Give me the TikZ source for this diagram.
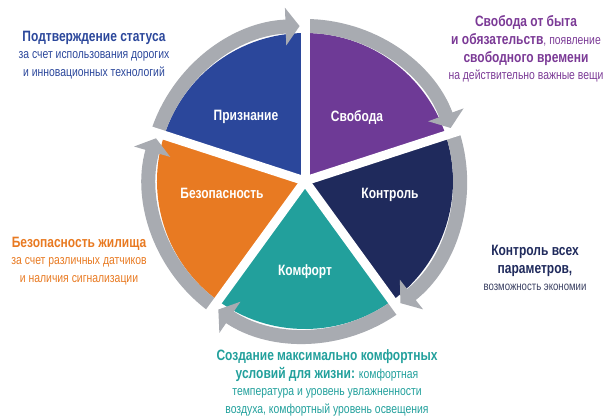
\documentclass[tikz,border=0pt]{standalone}
\usepackage{fontspec}
\setmainfont{Liberation Sans}[FakeStretch=0.8]
\usepackage{tikz}
\usetikzlibrary{arrows.meta}

\definecolor{priznBlue}{HTML}{2B479B}
\definecolor{svobPurple}{HTML}{6E3A96}
\definecolor{svobText}{HTML}{7B3A96}
\definecolor{kontrNavy}{HTML}{1F2A5C}
\definecolor{kontrText}{HTML}{3A4062}
\definecolor{komfTeal}{HTML}{22A09C}
\definecolor{bezOrange}{HTML}{E87A22}
\definecolor{ringGrey}{HTML}{A8ABB1}

\tikzset{
  ring/.style = {draw = ringGrey, line width = 14pt, -{Triangle[length=14pt,width=37pt]}},
  gap/.style = {draw = white, line width = 9pt},
  sliceLabel/.style = {text = white, font = \bfseries\fontsize{15}{17}\selectfont},
  descr/.style = {align = center, font = \fontsize{13}{17.7}\selectfont}
}
\newcommand{\ttl}[1]{{\bfseries\fontsize{15}{17.7}\selectfont #1}}

\begin{document}
\begin{tikzpicture}[x = 1pt, y = 1pt]
        \useasboundingbox (0,0) rectangle (605,416);
        \coordinate (centre) at (305,235);

        % slices
        \fill[priznBlue] (centre) -- ++(90:148) arc (90:162:148) -- cycle;
        \fill[svobPurple] (centre) -- ++(18:148) arc (18:90:148) -- cycle;
        \fill[kontrNavy] (centre) -- ++(-54:148) arc (-54:18:148) -- cycle;
        \fill[komfTeal] (centre) -- ++(-126:148) arc (-126:-54:148) -- cycle;
        \fill[bezOrange] (centre) -- ++(162:148) arc (162:234:148) -- cycle;

        % grey arrows round the circle
        \draw[ring] ([shift={(162:155)}]centre) arc (162:92:155);
        \draw[ring] ([shift={(90:155)}]centre) arc (90:20:155);
        \draw[ring] ([shift={(18:155)}]centre) arc (18:-52:155);
        \draw[ring] ([shift={(-54:155)}]centre) arc (-54:-124:155);
        \draw[ring] ([shift={(234:155)}]centre) arc (234:164:155);

        % white gaps
        \foreach \a in {90,18,-54,-126,162}
            \draw[gap] (centre) -- ++(\a:175);

        \node (prizn) [sliceLabel] at (246,299) {Признание};
        \node (svob) [sliceLabel] at (357,299) {Свобода};
        \node (kontr) [sliceLabel] at (390,221) {Контроль};
        \node (bez) [sliceLabel] at (222,223) {Безопасность};
        \node (komf) [sliceLabel] at (305,144) {Комфорт};

        \node (prizn_txt) [descr, text = priznBlue] at (94,361)
        {\ttl{Подтверждение статуса}\\ за счет использования дорогих\\ и инновационных технологий};
        \node (svob_txt) [descr, text = svobText] at (526,367)
        {\ttl{Свобода от быта}\\ \ttl{и обязательств}, появление\\ \ttl{свободного времени}\\ на действительно важные вещи};
        \node (bez_txt) [descr, text = bezOrange] at (79,155)
        {\ttl{Безопасность жилища}\\ за счет различных датчиков\\ и наличия сигнализации};
        \node (kontr_txt) [descr, text = kontrNavy] at (535,148)
        {\ttl{Контроль всех}\\ \ttl{параметров,}\\ {\color{kontrText}\fontsize{12}{17.7}\selectfont возможность экономии}};
        \node (komf_txt) [descr, text = komfTeal] at (327,33)
        {\ttl{Создание максимально комфортных}\\ \ttl{условий для жизни:} комфортная\\ температура и уровень увлажненности\\ воздуха, комфортный уровень освещения};
\end{tikzpicture}
\end{document}
